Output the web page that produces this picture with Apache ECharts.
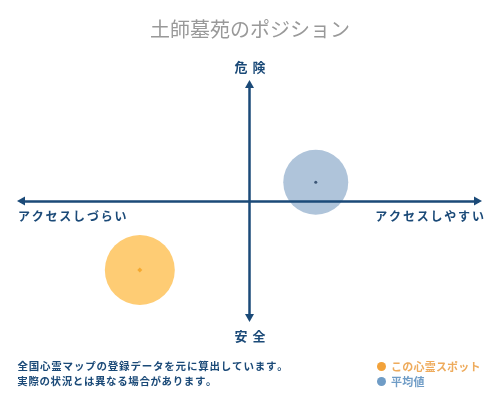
<!DOCTYPE html>
<html><head><meta charset="utf-8">
<script src="https://cdn.jsdelivr.net/npm/echarts@6/dist/echarts.min.js"></script>
<style>html,body{margin:0;padding:0;background:#fff}#c{width:500px;height:400px}</style>
</head><body><div id="c"></div>
<script>
const chartTitle = '土師墓苑のポジション';
const axisTop = '危険';
const axisBottom = '安全';
const axisLeft = 'アクセスしづらい';
const axisRight = 'アクセスしやすい';
const noteLines = ['全国心霊マップの登録データを元に算出しています。', '実際の状況とは異なる場合があります。'];
const seriesNames = ['この心霊スポット', '平均値'];
const spotPoint = [-48, -59];
const avgPoint = [29, 16];

const FONT = '"Noto Sans CJK JP", "Noto Sans CJK SC", sans-serif';
const NAVY = '#1b4a78';
function spaced(str, key) { return str.split('').map(c => '{' + key + '|' + c + '}').join(''); }

const chart = echarts.init(document.getElementById('c'));
chart.setOption({
  animation: false,
  backgroundColor: '#fff',
  title: [
    { text: chartTitle, left: 'center', top: 19, padding: 0,
      textStyle: { fontFamily: FONT, fontSize: 20, fontWeight: 'normal', color: '#999' } },
    { text: spaced(axisTop, 'a'), left: 'center', top: 61, padding: 0,
      textStyle: { rich: { a: { width: 18, align: 'center', fontFamily: FONT, fontSize: 13, fontWeight: 'bold', color: NAVY } } } },
    { text: spaced(axisBottom, 'a'), left: 'center', top: 330, padding: 0,
      textStyle: { rich: { a: { width: 18, align: 'center', fontFamily: FONT, fontSize: 13, fontWeight: 'bold', color: NAVY } } } },
    { text: spaced(axisLeft, 'a'), left: 17, top: 210, padding: 0,
      textStyle: { rich: { a: { width: 13.8, align: 'center', fontFamily: FONT, fontSize: 12, fontWeight: 'bold', color: NAVY } } } },
    { text: spaced(axisRight, 'a'), right: 17, top: 210, padding: 0,
      textStyle: { rich: { a: { width: 13.8, align: 'center', fontFamily: FONT, fontSize: 12, fontWeight: 'bold', color: NAVY } } } },
    { text: spaced(noteLines[0], 'a'), left: 17, top: 361, padding: 0,
      textStyle: { rich: { a: { width: 11.3, align: 'center', fontFamily: FONT, fontSize: 10.5, fontWeight: 'bold', color: NAVY } } } },
    { text: spaced(noteLines[1], 'a'), left: 17, top: 376, padding: 0,
      textStyle: { rich: { a: { width: 11.1, align: 'center', fontFamily: FONT, fontSize: 10.5, fontWeight: 'bold', color: NAVY } } } }
  ],
  legend: {
    orient: 'vertical', left: 377, top: 361, padding: 0,
    itemWidth: 9, itemHeight: 9, itemGap: 4, icon: 'circle',
    data: [
      { name: seriesNames[0], itemStyle: { color: '#f2a23a', opacity: 1 } },
      { name: seriesNames[1], itemStyle: { color: '#6f9cc6', opacity: 1 } }
    ],
    formatter: n => spaced(n, n === seriesNames[0] ? 'o' : 'b'),
    textStyle: { rich: {
      o: { width: 11.2, align: 'center', fontFamily: FONT, fontSize: 11, fontWeight: 'bold', color: '#eeab5c' },
      b: { width: 11.2, align: 'center', fontFamily: FONT, fontSize: 11, fontWeight: 'bold', color: '#6f9cc6' }
    } },
    selectedMode: false
  },
  grid: { left: 21, right: 22, top: 84, bottom: 82 },
  xAxis: {
    type: 'value', min: -100, max: 100, z: 10,
    axisLine: { onZero: true, symbol: ['triangle', 'triangle'], symbolSize: [9, 8], lineStyle: { color: NAVY, width: 2.5 } },
    axisTick: { show: false }, axisLabel: { show: false }, splitLine: { show: false }
  },
  yAxis: {
    type: 'value', min: -100, max: 100, z: 10,
    axisLine: { onZero: true, symbol: ['triangle', 'triangle'], symbolSize: [9, 8], lineStyle: { color: NAVY, width: 2.5 } },
    axisTick: { show: false }, axisLabel: { show: false }, splitLine: { show: false }
  },
  series: [
    { name: seriesNames[0], type: 'scatter', z: 1, symbolSize: 70, data: [spotPoint],
      itemStyle: { color: '#fecc74', opacity: 1 }, silent: true },
    { name: seriesNames[1], type: 'scatter', z: 1, symbolSize: 65, data: [avgPoint],
      itemStyle: { color: '#afc4da', opacity: 1 }, silent: true },
    { name: seriesNames[0], type: 'scatter', z: 2, symbol: 'diamond', symbolSize: 5, data: [spotPoint],
      itemStyle: { color: '#f2a01f' }, silent: true },
    { name: seriesNames[1], type: 'scatter', z: 2, symbolSize: 3, data: [avgPoint],
      itemStyle: { color: '#1f3b5c' }, silent: true }
  ]
});
</script></body></html>
